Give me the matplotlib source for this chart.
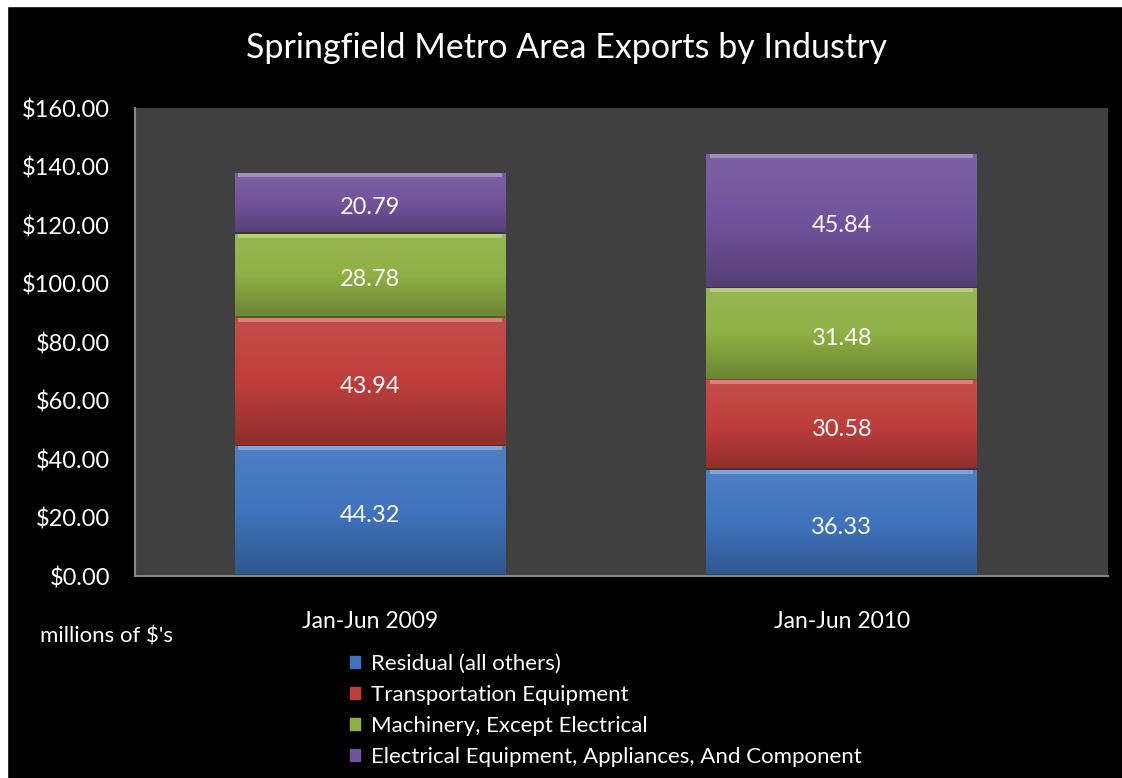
import numpy as np
import matplotlib
matplotlib.use("Agg")
import matplotlib.pyplot as plt
from matplotlib.patches import Rectangle
from matplotlib.colors import LinearSegmentedColormap, to_rgb

plt.rcParams['font.family'] = ['Lato', 'DejaVu Sans']

# data
periods = ['Jan-Jun 2009', 'Jan-Jun 2010']
industries = ['Residual (all others)', 'Transportation Equipment',
              'Machinery, Except Electrical',
              'Electrical Equipment, Appliances, And Component']
residual = [44.32, 36.33]
transport = [43.94, 30.58]
machinery = [28.78, 31.48]
electrical = [20.79, 45.84]
yticks = [0, 20, 40, 60, 80, 100, 120, 140, 160]

series = [residual, transport, machinery, electrical]
colors = ['#3f74bd', '#bf3e3b', '#8fb043', '#71539c']


def shade(c, f):
    r, g, b = to_rgb(c)
    if f >= 0:
        return (r + (1 - r) * f, g + (1 - g) * f, b + (1 - b) * f)
    return (r * (1 + f), g * (1 + f), b * (1 + f))


fig = plt.figure(figsize=(11.22, 7.78), dpi=100, facecolor='black')
ax = fig.add_axes([0.1203, 0.2596, 0.8672, 0.6015])
ax.set_facecolor('#404040')

x = np.arange(len(periods))
width = 0.574
bottom = np.zeros(len(periods))
for vals, col, name in zip(series, colors, industries):
    bars = ax.bar(x, vals, width, bottom=bottom, color=col, edgecolor='none',
                  label=name, zorder=2)
    cmap = LinearSegmentedColormap.from_list(
        'g', [shade(col, -0.25), col, shade(col, 0.08)])
    for b, v, b0 in zip(bars, vals, bottom):
        x0, w = b.get_x(), b.get_width()
        grad = np.linspace(0, 1, 100).reshape(-1, 1)
        im = ax.imshow(grad, cmap=cmap, aspect='auto', origin='lower',
                       extent=[x0, x0 + w, b0, b0 + v], zorder=2.5)
        im.set_clip_path(b)
        # bevel highlight on top, darker bottom line
        ax.add_patch(Rectangle((x0 + 0.008, b0 + v - 1.3), w - 0.016, 1.3,
                               color=shade(col, 0.35), lw=0, zorder=3))
        ax.add_patch(Rectangle((x0, b0), w, 0.6,
                               color=shade(col, -0.45), lw=0, zorder=3))
        ax.annotate(f'{v:.2f}', (x0 + w / 2, b0 + v / 2), xytext=(0, -3),
                    textcoords='offset points', ha='center', va='center',
                    color='white', fontsize=17, zorder=4)
    bottom += np.array(vals)

ax.set_xlim(-0.498, 1.564)
ax.set_ylim(0, 160)
ax.set_yticks(yticks)
ax.set_yticklabels([f'${t:.2f}' for t in yticks])
ax.set_xticks(x)
ax.set_xticklabels(periods)
ax.tick_params(axis='y', length=0, pad=18, colors='white', labelsize=17)
ax.tick_params(axis='x', length=0, pad=25, colors='white', labelsize=16.5)
for s in ['top', 'right']:
    ax.spines[s].set_visible(False)
for s in ['left', 'bottom']:
    ax.spines[s].set_color('#868686')
    ax.spines[s].set_linewidth(1.5)
    ax.spines[s].set_zorder(5)

fig.text(0.505, 0.938, 'Springfield Metro Area Exports by Industry',
         ha='center', va='center', color='white', fontsize=24.5)
fig.text(0.036, 0.182, "millions of $'s", ha='left', va='center',
         color='white', fontsize=16)

handles = [Rectangle((0, 0), 1, 1, color=c) for c in colors]
fig.legend(handles, industries, loc='upper left',
           bbox_to_anchor=(0.312, 0.159), frameon=False, fontsize=16,
           labelcolor='white', handlelength=0.45, handleheight=0.45,
           handletextpad=0.5, labelspacing=0.485, borderpad=0,
           borderaxespad=0)

# white edge strips seen on the reference
fig.patches.append(Rectangle((0, 1 - 6 / 778), 1, 6 / 778, color='white',
                             transform=fig.transFigure, figure=fig))
fig.patches.append(Rectangle((0, 0), 7 / 1122, 1, color='white',
                             transform=fig.transFigure, figure=fig))

fig.savefig('out.png', dpi=100, facecolor='black')
